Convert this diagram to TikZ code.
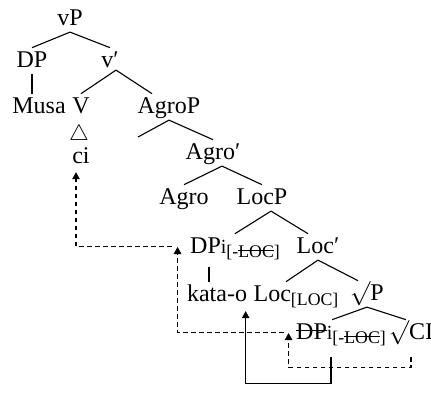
\documentclass[tikz,border=0pt]{standalone}
\usepackage{fontspec}
\setmainfont{Liberation Serif}
\usetikzlibrary{calc,arrows.meta}

\newsavebox{\strkbox}
\newcommand{\strk}[1]{\sbox{\strkbox}{#1}\rlap{\rule[0.33em]{\wd\strkbox}{0.4pt}}\usebox{\strkbox}}
\newcommand{\feat}[1]{\raisebox{-1.8pt}{\footnotesize[#1]}}

\begin{document}
\begin{tikzpicture}[x=0.45pt,y=-0.45pt,
    lbl/.style={anchor=base,inner sep=1pt,text height=7.5pt,text depth=2pt,font=\fontsize{10.8}{13}\selectfont},
    roof/.style={anchor=base,inner sep=0pt,font=\fontsize{10}{12}\selectfont},
    branch/.style={line width=0.5pt},
    move/.style={line width=0.5pt,dash pattern=on 2pt off 1.6pt,-{Triangle[width=3.4pt,length=3.2pt]}},
    agree/.style={line width=0.5pt,-{Triangle[width=3.4pt,length=3.2pt]}}]
        \useasboundingbox (0,0) rectangle (431,394);
        \node[lbl] (vP) at (70,25) {vP};
        \node[lbl] (DP) at (32,67) {DP};
        \node[lbl] (vbar) at (110,67) {v′};
        \node[lbl] (Musa) at (39,113) {Musa};
        \node[lbl] (V) at (81,113) {V};
        \node[lbl] (AgroP) at (169,113) {AgroP};
        \node[roof] (tri) at (79,140) {$\triangle$};
        \node[lbl] (ci) at (81,163) {ci};
        \coordinate (spec) at (138,137);
        \node[lbl] (Agrobar) at (213,159) {Agro′};
        \node[lbl] (Agro) at (184,204) {Agro};
        \node[lbl] (LocP) at (262,204) {LocP};
        \node[lbl] (DPup) at (235,253) {DP{\small i}\feat{-\strk{LOC}}};
        \node[lbl] (Locbar) at (318,253) {Loc′};
        \node[lbl] (kata) at (217,301) {kata-o};
        \node[lbl] (Loc) at (296,301) {Loc\feat{LOC}};
        \node[lbl] (rootP) at (367,300) {$\surd$P};
        \node[lbl] (DPlow) at (341,339) {\strk{DP}{\small i}\feat{-\strk{LOC}}};
        \node[lbl] (root) at (411,339) {$\surd$CI};
        % branches
        \draw[branch] (vP.south) -- (DP.north);
        \draw[branch] (vP.south) -- (vbar.north);
        \draw[branch] (DP.south) -- (DP.south |- Musa.north);
        \draw[branch] ($(vbar.south)+(6,-4)$) -- (V.north);
        \draw[branch] ($(vbar.south)+(6,-4)$) -- ($(AgroP.north)!0.5!(AgroP.north west)$);
        \draw[branch] (AgroP.south) -- (spec);
        \draw[branch] (AgroP.south) -- (Agrobar.north);
        \draw[branch] ($(Agrobar.south)+(9,0)$) -- (Agro.north);
        \draw[branch] ($(Agrobar.south)+(9,0)$) -- (LocP.north);
        \draw[branch] ($(LocP.south)+(9,0)$) -- (DPup.north);
        \draw[branch] ($(LocP.south)+(9,0)$) -- ($(Locbar.north)+(-10,0)$);
        \draw[branch] ($(DPup.south)+(-26,7)$) coordinate (t) -- (t |- kata.north);
        \draw[branch] (Locbar.south) -- ($(Loc.north)+(-10,0)$);
        \draw[branch] (Locbar.south) -- ($(rootP.north)+(-9,0)$);
        \draw[branch] (rootP.south) -- ($(DPlow.north)+(-9,0)$);
        \draw[branch] (rootP.south) -- ($(root.north)+(-5,0)$);
        % movement
        \draw[move] ($(root.south)+(0,11)$) -- ++(0,10) -| ($(DPlow.west)+(-5,0)$);
        \draw[agree] ($(DPlow.south)+(-10,11)$) -- ++(0,26) -| ($(kata.south east)+(-4,3)$);
        \draw[move] ($(DPlow.west)+(-10,0)$) -| ($(DPup.west)+(-10,0)$);
        \draw[move] ($(DPup.west)+(-16,0)$) -| ($(ci.south)+(-5,2)$);
\end{tikzpicture}
\end{document}
